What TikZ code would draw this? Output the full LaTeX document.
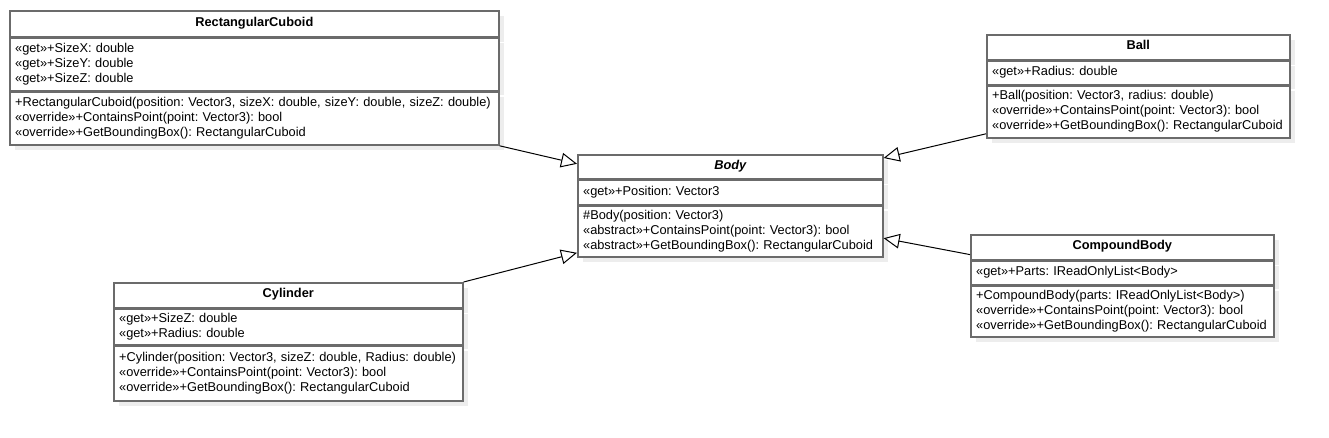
\documentclass[tikz,border=0pt]{standalone}
\usepackage{fontspec}
\setmainfont{Liberation Sans}
\usetikzlibrary{arrows.meta,positioning,shadows}
\definecolor{umlgray}{HTML}{6B6B6B}
\hyphenpenalty=10000
\frenchspacing

\begin{document}
\begin{tikzpicture}[
	x=0.75pt, y=-0.75pt,
	part/.style={draw=umlgray,line width=1.2pt,fill=white,inner xsep=4pt,inner ysep=0pt,align=left,
		drop shadow={shadow xshift=3.75pt,shadow yshift=-3.75pt,fill=black!7,opacity=1},
		execute at begin node={\rule[-3pt]{0pt}{8.25pt}},
		execute at end node={\rule[-3pt]{0pt}{8.25pt}},
		font=\fontsize{9.6}{11.25}\selectfont},
	classname/.style={part,anchor=north west,align=center,font=\fontsize{9.6}{11.25}\selectfont\bfseries},
	gen/.style={draw,line width=0.75pt,-{Triangle[open,length=12pt,width=11pt]}}
	]
	\useasboundingbox (0,0) rectangle (1329,437);
	
	% Body
	\node[classname,minimum width=228.75pt,minimum height=18pt] (body) at (577,154) {\itshape Body};
	\node[part,below=0pt of body,text width=220.75pt,minimum height=18pt] (body-attr) {«get»+Position: Vector3};
	\node[part,below=0pt of body-attr,text width=220.75pt,minimum height=38.25pt] (body-ops) {\#Body(position: Vector3)\\«abstract»+ContainsPoint(point: Vector3): bool\\«abstract»+GetBoundingBox(): RectangularCuboid};
	
	% RectangularCuboid
	\node[classname,minimum width=366.75pt,minimum height=19.5pt] (rc) at (9,10) {RectangularCuboid};
	\node[part,below=0pt of rc,text width=358.75pt,minimum height=39pt] (rc-attr) {«get»+SizeX: double\\«get»+SizeY: double\\«get»+SizeZ: double};
	\node[part,below=0pt of rc-attr,text width=358.75pt,minimum height=39.75pt] (rc-ops) {+RectangularCuboid(position: Vector3, sizeX: double, sizeY: double, sizeZ: double)\\«override»+ContainsPoint(point: Vector3): bool\\«override»+GetBoundingBox(): RectangularCuboid};
	
	% Ball
	\node[classname,minimum width=227.25pt,minimum height=18.75pt] (ball) at (986,34) {Ball};
	\node[part,below=0pt of ball,text width=219.25pt,minimum height=17.25pt] (ball-attr) {«get»+Radius: double};
	\node[part,below=0pt of ball-attr,text width=219.25pt,minimum height=39pt] (ball-ops) {+Ball(position: Vector3, radius: double)\\«override»+ContainsPoint(point: Vector3): bool\\«override»+GetBoundingBox(): RectangularCuboid};
	
	% CompoundBody
	\node[classname,minimum width=227.25pt,minimum height=18.75pt] (cb) at (970,234) {CompoundBody};
	\node[part,below=0pt of cb,text width=219.25pt,minimum height=17.25pt] (cb-attr) {«get»+Parts: IReadOnlyList<Body>};
	\node[part,below=0pt of cb-attr,text width=219.25pt,minimum height=38.25pt] (cb-ops) {+CompoundBody(parts: IReadOnlyList<Body>)\\«override»+ContainsPoint(point: Vector3): bool\\«override»+GetBoundingBox(): RectangularCuboid};
	
	% Cylinder
	\node[classname,minimum width=261.75pt,minimum height=18.75pt] (cyl) at (113,282) {Cylinder};
	\node[part,below=0pt of cyl,text width=253.75pt,minimum height=26.25pt] (cyl-attr) {«get»+SizeZ: double\\«get»+Radius: double};
	\node[part,below=0pt of cyl-attr,text width=253.75pt,minimum height=41.25pt] (cyl-ops) {+Cylinder(position: Vector3, sizeZ: double, Radius: double)\\«override»+ContainsPoint(point: Vector3): bool\\«override»+GetBoundingBox(): RectangularCuboid};
	
	% Vererbung
	\draw[gen] (rc-ops.south east) -- ([yshift=2.25pt]body.west);
	\draw[gen] (cyl.north east) -- ([yshift=3.75pt]body-ops.south west);
	\draw[gen] ([yshift=3.75pt]ball-ops.south west) -- ([yshift=-3pt]body.north east);
	\draw[gen] ([yshift=4.5pt]cb.south west) -- ([yshift=-5pt]body-ops.east);
\end{tikzpicture}
\end{document}
